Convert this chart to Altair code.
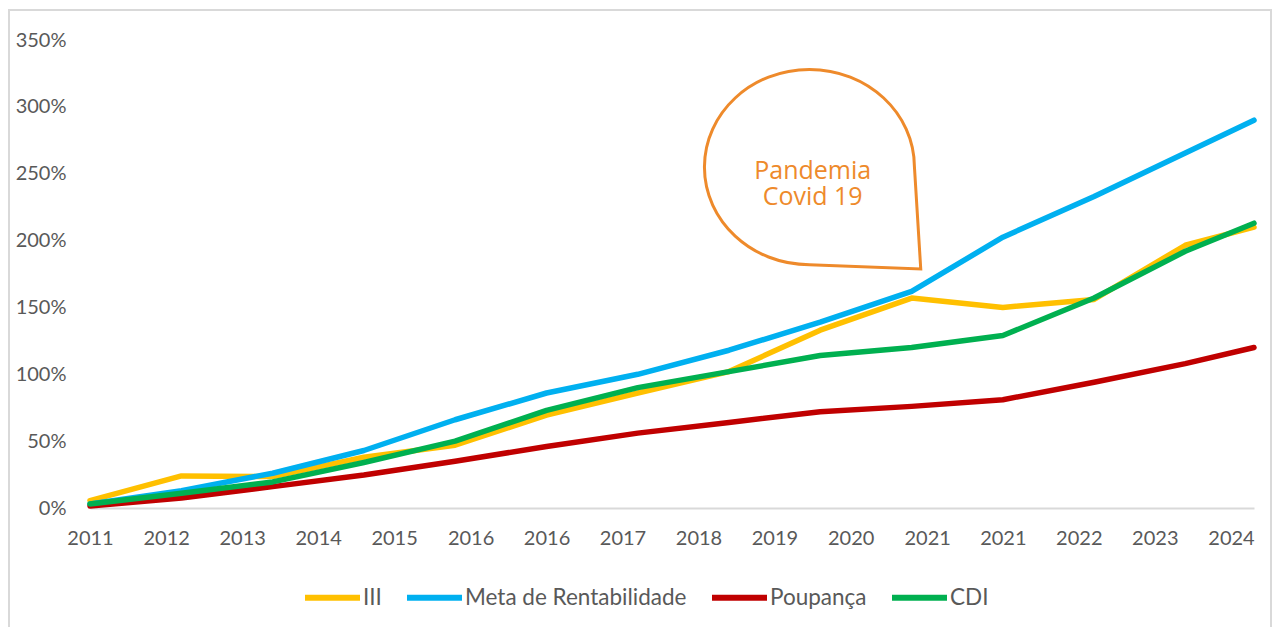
import altair as alt
import pandas as pd

# ---- data ----
dates = ["2011-12-01", "2012-12-01", "2013-12-01", "2014-12-01", "2015-12-01",
         "2016-12-01", "2017-12-01", "2018-12-01", "2019-12-01", "2020-12-01",
         "2021-12-01", "2022-12-01", "2023-12-01", "2024-09-01"]
iii = [5.5, 24, 23.5, 38, 47, 69.5, 86, 102, 133, 157, 150, 156, 196.5, 210]
meta = [3, 13, 26, 43, 66, 86, 100, 118, 139, 162, 202.5, 233, 265.5, 290]
poupanca = [1.5, 7.5, 16, 24.7, 35, 46, 56, 64, 72, 76, 81, 94, 108, 120]
cdi = [3, 11, 19.5, 34, 50, 73, 90, 102, 114, 120, 129, 157, 192, 213]

series_names = ["III", "Meta de Rentabilidade", "Poupança", "CDI"]
series_values = [iii, meta, poupanca, cdi]
series_colors = ["#FFC000", "#00B0F0", "#C00000", "#00B050"]

# x-axis tick dates (Excel date axis, major unit 10 months) and their labels
tick_dates = ["2011-12", "2012-10", "2013-08", "2014-06", "2015-04", "2016-02",
              "2016-12", "2017-10", "2018-08", "2019-06", "2020-04", "2021-02",
              "2021-12", "2022-10", "2023-08", "2024-06"]
tick_labels = ["2011", "2012", "2013", "2014", "2015", "2016", "2016", "2017",
               "2018", "2019", "2020", "2021", "2021", "2022", "2023", "2024"]

y_ticks = [0, 0.5, 1.0, 1.5, 2.0, 2.5, 3.0, 3.5]

# annotation (speech bubble) anchored in data space
bubble_date = "2019-10-19"
bubble_value = 2.55
note_date = "2019-11-01"
note_value = 2.52
note_text = "Pandemia\nCovid 19"

# ---- build table ----
rows = []
for name, vals in zip(series_names, series_values):
    for d, v in zip(dates, vals):
        rows.append({"date": d, "serie": name, "valor": v / 100.0})
df = pd.DataFrame(rows)


def dt(s):
    parts = [int(p) for p in s.split("-")]
    return alt.DateTime(year=parts[0], month=parts[1],
                        date=parts[2] if len(parts) > 2 else 1, utc=True)


x_scale = alt.Scale(type="utc", domain=[dt(dates[0]), dt(dates[-1])])
y_scale = alt.Scale(domain=[0, 3.5], nice=False, zero=True)

gray_text = "#595959"
font = "Lato"

x_enc = alt.X(
    "date:T",
    scale=x_scale,
    axis=alt.Axis(
        title=None,
        values=[dt(d) for d in tick_dates],
        labelExpr="utcFormat(datum.value, '%Y')",
        labelFont=font,
        labelFontSize=20,
        labelColor=gray_text,
        labelPadding=20,
        ticks=False,
        grid=False,
        domainColor="#D9D9D9",
        domainWidth=2,
        labelFlush=False,
        labelOverlap=False,
        labelBound=False,
    ),
)
y_enc = alt.Y(
    "valor:Q",
    scale=y_scale,
    axis=alt.Axis(
        title=None,
        values=y_ticks,
        format=".0%",
        labelFont=font,
        labelFontSize=20,
        labelColor=gray_text,
        labelPadding=24,
        ticks=False,
        grid=False,
        domain=False,
    ),
)

lines = alt.Chart(df).mark_line(
    strokeWidth=5.5, strokeCap="round", strokeJoin="round"
).encode(
    x=x_enc,
    y=y_enc,
    color=alt.Color(
        "serie:N",
        scale=alt.Scale(domain=series_names, range=series_colors),
        sort=series_names,
        legend=alt.Legend(
            title=None,
            orient="none",
            direction="horizontal",
            legendX=212,
            legendY=527,
            symbolType="stroke",
            symbolSize=3025,
            symbolStrokeWidth=6,
            labelFont=font,
            labelFontSize=22.5,
            labelColor=gray_text,
            labelLimit=400,
            labelOffset=0,
            columnPadding=13,
            padding=0,
        ),
    ),
    order=alt.Order("date:T"),
)

bubble_df = pd.DataFrame([{"date": bubble_date, "valor": bubble_value}])
note_df = pd.DataFrame([{"date": note_date, "valor": note_value, "txt": note_text}])

bubble_path = "M 0 0.93 A 1 0.93 0 1 1 1 0 L 1.06 0.97 Z"
bubble = alt.Chart(bubble_df).mark_point(
    shape=bubble_path,
    size=44100,
    filled=False,
    stroke="#EE8A2B",
    strokeWidth=3,
    opacity=1,
).encode(x=alt.X("date:T", scale=x_scale), y=alt.Y("valor:Q", scale=y_scale))

note = alt.Chart(note_df).mark_text(
    font="Open Sans",
    fontSize=25,
    color="#EE8A2B",
    lineBreak="\n",
    lineHeight=26,
    align="center",
    baseline="middle",
).encode(x=alt.X("date:T", scale=x_scale), y=alt.Y("valor:Q", scale=y_scale), text="txt:N")

frame = alt.Chart(bubble_df).mark_rect(
    fill=None, stroke="#D9D9D9", strokeWidth=2
).encode(
    x=alt.value(-81), x2=alt.value(1181), y=alt.value(-30), y2=alt.value(640)
)

chart = alt.layer(frame, lines, bubble, note).properties(
    width=1164,
    height=468,
    padding={"left": 82, "top": 32, "right": 18, "bottom": 119},
    autosize=alt.AutoSizeParams(type="none"),
).configure_view(stroke=None)

chart.save("out.html", embed_options={"renderer": "svg", "actions": False})
